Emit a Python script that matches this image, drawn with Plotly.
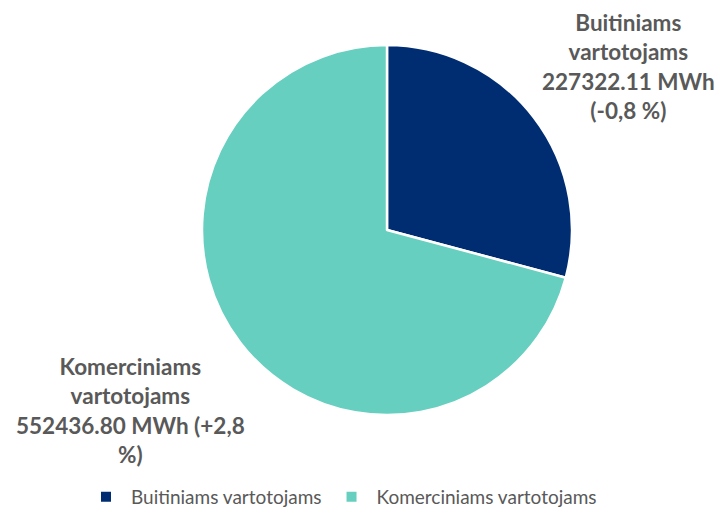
import plotly.graph_objects as go

categories = ["Buitiniams vartotojams", "Komerciniams vartotojams"]
values = [227322.11, 552436.80]
changes = ["-0,8 %", "+2,8 %"]
colors = ["#002D72", "#66CFBF"]

W, H = 717, 509
cx, cy, r = 387, 230, 185

fig = go.Figure(go.Pie(
    labels=categories,
    values=values,
    sort=False,
    direction="clockwise",
    rotation=0,
    textinfo="none",
    hoverinfo="label+value",
    marker=dict(colors=colors, line=dict(color="white", width=2.5)),
    domain=dict(x=[(cx - r) / W, (cx + r) / W], y=[(H - cy - r) / H, (H - cy + r) / H]),
))

font = dict(family="Lato, Carlito, sans-serif", size=22.5, color="#595959")
lbl1 = "Buitiniams<br>vartotojams<br>%.2f MWh<br>(%s)" % (values[0], changes[0])
lbl2 = "Komerciniams<br>vartotojams<br>%.2f MWh (%s<br>%%)" % (values[1], changes[1][:-2])
fig.add_annotation(text="<b>%s</b>" % lbl1, x=628 / W, y=1 - 67 / H, xref="paper", yref="paper",
                   showarrow=False, font=font, align="center", xanchor="center", yanchor="middle")
fig.add_annotation(text="<b>%s</b>" % lbl2, x=130 / W, y=1 - 410 / H, xref="paper", yref="paper",
                   showarrow=False, font=font, align="center", xanchor="center", yanchor="middle")

fig.update_layout(
    width=W, height=H,
    margin=dict(l=0, r=0, t=0, b=0, autoexpand=False),
    paper_bgcolor="white",
    plot_bgcolor="white",
    showlegend=True,
    legend=dict(orientation="h", x=81 / W, xanchor="left", y=(H - 497) / H, yanchor="middle",
                font=dict(family="Lato, Carlito, sans-serif", size=19, color="#595959"),
                itemsizing="constant", traceorder="normal", itemwidth=40),
)

fig.write_html("out.html", config={"displayModeBar": False},
               post_script="document.body.style.margin='0';")
